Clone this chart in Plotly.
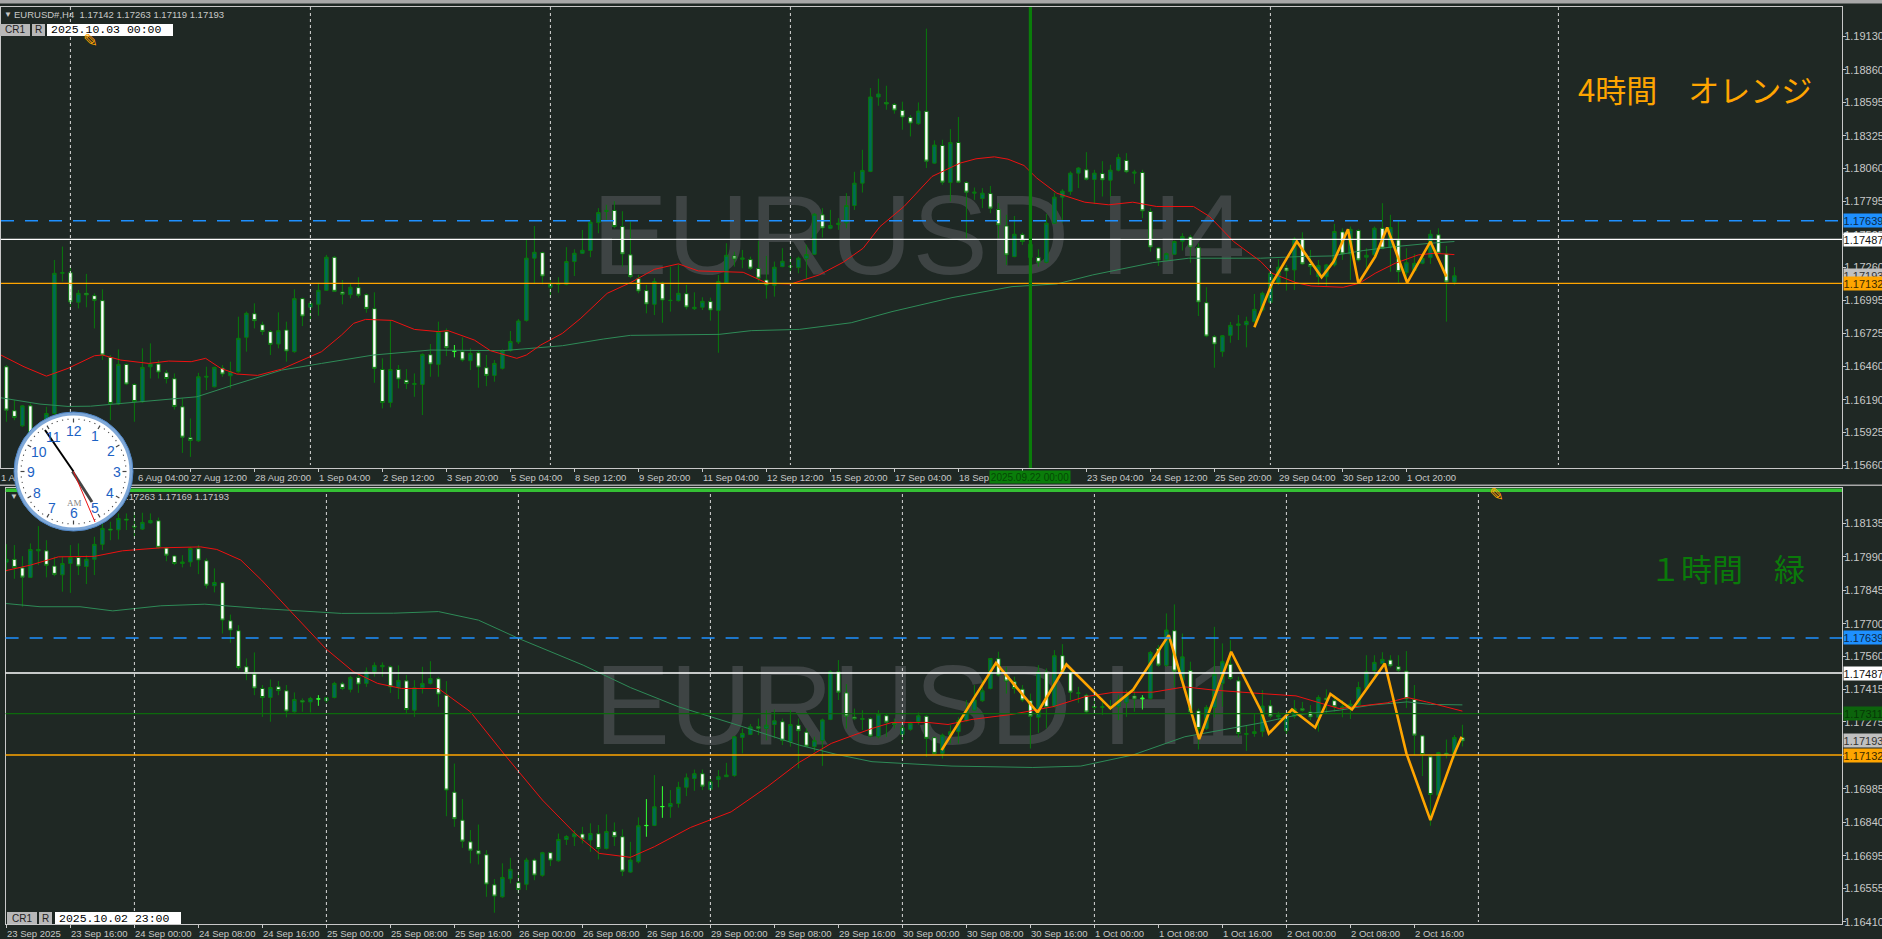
import math
import plotly.graph_objects as go

W, H = 1882, 939
BG = "#1f2824"

top_open = [1.16457,1.16101,1.15979,1.16141,1.15809,1.15944,1.16079,1.17213,1.17218,1.16978,
1.17051,1.17032,1.16992,1.16533,1.16155,1.16476,1.16314,1.16174,1.16457,1.16479,
1.16408,1.16360,1.16133,1.15882,1.15858,1.16373,1.16295,1.16446,1.16384,1.16417,
1.16695,1.16886,1.16797,1.16741,1.16641,1.16754,1.16579,1.17008,1.16938,1.16962,
1.17075,1.17343,1.17062,1.17040,1.17097,1.17040,1.16927,1.16435,1.16168,1.16435,
1.16349,1.16314,1.16314,1.16554,1.16476,1.16741,1.16581,1.16579,1.16506,1.16570,
1.16449,1.16387,1.16444,1.16589,1.16657,1.16832,1.17335,1.17380,1.17100,1.17124,
1.17124,1.17308,1.17375,1.17397,1.17623,1.17713,1.17721,1.17591,1.17362,1.17170,
1.17073,1.16962,1.17135,1.16992,1.16992,1.17048,1.16927,1.16938,1.16984,1.16913,
1.17137,1.17353,1.17326,1.17324,1.17251,1.17159,1.17116,1.17267,1.17264,1.17259,
1.17332,1.17367,1.17686,1.17577,1.17607,1.17621,1.17761,1.17942,1.18037,1.18639,
1.18595,1.18579,1.18531,1.18474,1.18423,1.18523,1.18104,1.18247,1.17947,1.18271,
1.17947,1.17861,1.17818,1.17858,1.17729,1.17596,1.17348,1.17526,1.17340,1.17340,
1.17302,1.17618,1.17829,1.17875,1.18023,1.18050,1.17972,1.18020,1.17966,1.18047,
1.18126,1.18023,1.18028,1.17713,1.17418,1.17321,1.17367,1.17472,1.17507,1.17421,
1.16975,1.16700,1.16579,1.16711,1.16792,1.16797,1.16822,1.16916,1.16978,1.17132,
1.17256,1.17240,1.17491,1.17289,1.17186,1.17186,1.17281,1.17548,1.17370,1.17559,
1.17343,1.17362,1.17577,1.17424,1.17483,1.17218,1.17235,1.17294,1.17340,1.17524,
1.17370,1.17142]
top_high = [1.16471,1.16187,1.16147,1.16160,1.15998,1.16133,1.17321,1.17429,1.17267,1.17078,
1.17208,1.17051,1.17083,1.16552,1.16597,1.16484,1.16322,1.16606,1.16646,1.16511,
1.16430,1.16403,1.16201,1.16039,1.16408,1.16457,1.16457,1.16471,1.16498,1.16862,
1.16903,1.16970,1.16822,1.16754,1.16897,1.16822,1.17083,1.17016,1.16984,1.17137,
1.17362,1.17353,1.17159,1.17127,1.17181,1.17051,1.17059,1.16525,1.16830,1.16471,
1.16438,1.16403,1.16565,1.16641,1.16822,1.16767,1.16633,1.16695,1.16606,1.16592,
1.16552,1.16511,1.16597,1.16746,1.16843,1.17483,1.17596,1.17388,1.17181,1.17181,
1.17424,1.17407,1.17564,1.17645,1.17740,1.17767,1.17796,1.17715,1.17632,1.17200,
1.17119,1.17173,1.17146,1.17267,1.17286,1.17119,1.17059,1.17019,1.17016,1.17200,
1.17456,1.17388,1.17402,1.17348,1.17475,1.17353,1.17308,1.17416,1.17348,1.17348,
1.17443,1.17699,1.17740,1.17726,1.17659,1.17861,1.18034,1.18212,1.18712,1.18787,
1.18730,1.18590,1.18601,1.18493,1.18595,1.19192,1.18288,1.18293,1.18379,1.18477,
1.17958,1.17907,1.17902,1.17920,1.17780,1.17686,1.17677,1.17542,1.17564,1.17407,
1.17693,1.17866,1.17893,1.18037,1.18072,1.18193,1.18050,1.18120,1.18091,1.18180,
1.18185,1.18050,1.18050,1.17740,1.17424,1.17380,1.17478,1.17537,1.17524,1.17456,
1.17100,1.16714,1.16714,1.16819,1.16875,1.16862,1.17046,1.17065,1.17226,1.17326,
1.17281,1.17505,1.17545,1.17402,1.17321,1.17289,1.17613,1.17577,1.17591,1.17569,
1.17416,1.17591,1.17780,1.17686,1.17640,1.17416,1.17370,1.17375,1.17564,1.17577,
1.17434,1.17263]
top_low = [1.16012,1.16025,1.15971,1.15795,1.15728,1.15930,1.16025,1.17146,1.16943,1.16929,
1.16938,1.16767,1.16511,1.16025,1.16147,1.16308,1.16012,1.16165,1.16362,1.16362,
1.16322,1.16111,1.15760,1.15728,1.15850,1.16268,1.16290,1.16376,1.16282,1.16408,
1.16579,1.16767,1.16714,1.16552,1.16606,1.16498,1.16570,1.16786,1.16835,1.16870,
1.17070,1.17062,1.16962,1.17010,1.17016,1.16894,1.16327,1.16120,1.16128,1.16282,
1.16276,1.16214,1.16066,1.16376,1.16376,1.16543,1.16533,1.16498,1.16430,1.16287,
1.16300,1.16336,1.16435,1.16579,1.16641,1.16822,1.17132,1.17124,1.17024,1.17056,
1.17116,1.17191,1.17370,1.17343,1.17537,1.17645,1.17577,1.17267,1.17173,1.17051,
1.16889,1.16875,1.16813,1.16903,1.16984,1.16921,1.16916,1.16916,1.16830,1.16570,
1.17132,1.17267,1.17254,1.17240,1.17146,1.17008,1.17024,1.17262,1.17213,1.17213,
1.17164,1.17362,1.17502,1.17569,1.17564,1.17577,1.17726,1.17866,1.18031,1.18568,
1.18536,1.18504,1.18374,1.18320,1.18414,1.18064,1.18099,1.17929,1.17794,1.17942,
1.17497,1.17807,1.17740,1.17699,1.17497,1.17281,1.17343,1.17443,1.17294,1.17267,
1.17294,1.17613,1.17623,1.17847,1.17902,1.17964,1.17775,1.17834,1.17834,1.18037,
1.18023,1.17937,1.17659,1.17388,1.17272,1.17313,1.17362,1.17397,1.17299,1.16867,
1.16695,1.16449,1.16538,1.16651,1.16673,1.16614,1.16813,1.16903,1.16970,1.17119,
1.17073,1.17078,1.17281,1.17200,1.17119,1.17110,1.17267,1.17321,1.17159,1.17308,
1.17235,1.17348,1.17407,1.17226,1.17137,1.17137,1.17226,1.17286,1.17289,1.17367,
1.16822,1.17119]
top_close = [1.16106,1.16047,1.16141,1.15836,1.15944,1.16079,1.17213,1.17218,1.16981,1.17051,
1.17038,1.16994,1.16552,1.16160,1.16476,1.16317,1.16176,1.16452,1.16479,1.16414,
1.16362,1.16136,1.15887,1.15860,1.16376,1.16379,1.16452,1.16398,1.16417,1.16687,
1.16889,1.16830,1.16743,1.16638,1.16749,1.16584,1.17008,1.16867,1.16970,1.17075,
1.17343,1.17067,1.17043,1.17100,1.17035,1.16929,1.16444,1.16168,1.16435,1.16357,
1.16322,1.16322,1.16557,1.16479,1.16741,1.16611,1.16584,1.16511,1.16565,1.16454,
1.16387,1.16484,1.16587,1.16662,1.16827,1.17335,1.17383,1.17191,1.17124,1.17127,
1.17308,1.17375,1.17399,1.17626,1.17704,1.17721,1.17591,1.17370,1.17186,1.17070,
1.16965,1.17146,1.16997,1.16994,1.17051,1.16940,1.16938,1.16986,1.16916,1.17146,
1.17359,1.17329,1.17337,1.17254,1.17173,1.17119,1.17262,1.17310,1.17270,1.17335,
1.17364,1.17691,1.17580,1.17599,1.17618,1.17761,1.17942,1.18045,1.18639,1.18663,
1.18582,1.18533,1.18477,1.18428,1.18525,1.18120,1.18250,1.17950,1.18271,1.17950,
1.17869,1.17869,1.17861,1.17740,1.17605,1.17362,1.17529,1.17470,1.17448,1.17302,
1.17618,1.17829,1.17877,1.18023,1.18064,1.17974,1.18023,1.17969,1.18047,1.18150,
1.18034,1.18031,1.17718,1.17426,1.17321,1.17372,1.17470,1.17510,1.17426,1.16981,
1.16705,1.16641,1.16708,1.16792,1.16803,1.16824,1.16921,1.17051,1.17213,1.17262,
1.17232,1.17491,1.17289,1.17267,1.17275,1.17281,1.17551,1.17370,1.17569,1.17321,
1.17359,1.17577,1.17416,1.17583,1.17226,1.17299,1.17294,1.17335,1.17529,1.17375,
1.17143,1.17193]

bot_open = [1.17967,1.17979,1.17942,1.17901,1.18016,1.18016,1.17950,1.17912,1.17961,1.17987,
1.17948,1.17979,1.18044,1.18110,1.18107,1.18153,1.18123,1.18110,1.18137,1.18146,
1.18028,1.17994,1.17961,1.17968,1.18025,1.17973,1.17865,1.17878,1.17713,1.17670,
1.17514,1.17482,1.17420,1.17381,1.17427,1.17410,1.17319,1.17367,1.17362,1.17374,
1.17367,1.17381,1.17440,1.17416,1.17468,1.17442,1.17492,1.17514,1.17514,1.17424,
1.17453,1.17326,1.17423,1.17442,1.17462,1.17391,1.16971,1.16850,1.16756,1.16717,
1.16700,1.16570,1.16518,1.16596,1.16579,1.16572,1.16677,1.16611,1.16709,1.16674,
1.16766,1.16778,1.16790,1.16764,1.16791,1.16727,1.16800,1.16778,1.16625,1.16670,
1.16826,1.16827,1.16908,1.16908,1.16922,1.16992,1.17030,1.17051,1.16983,1.17026,
1.17038,1.17043,1.17208,1.17221,1.17254,1.17247,1.17264,1.17276,1.17189,1.17261,
1.17231,1.17168,1.17194,1.17286,1.17492,1.17401,1.17296,1.17286,1.17289,1.17211,
1.17302,1.17269,1.17221,1.17243,1.17277,1.17300,1.17207,1.17139,1.17218,1.17233,
1.17280,1.17326,1.17367,1.17420,1.17549,1.17475,1.17449,1.17417,1.17367,1.17295,
1.17491,1.17341,1.17562,1.17489,1.17398,1.17391,1.17338,1.17338,1.17333,1.17341,
1.17358,1.17387,1.17375,1.17377,1.17593,1.17520,1.17670,1.17456,1.17497,1.17323,
1.17247,1.17338,1.17442,1.17525,1.17453,1.17221,1.17225,1.17233,1.17345,1.17297,
1.17237,1.17300,1.17332,1.17318,1.17295,1.17378,1.17367,1.17335,1.17338,1.17348,
1.17420,1.17497,1.17528,1.17543,1.17514,1.17495,1.17372,1.17215,1.17124,1.16958,
1.17140,1.17136,1.17207]
bot_high = [1.18045,1.18041,1.17993,1.18048,1.18123,1.18062,1.17990,1.17990,1.18041,1.18048,
1.17997,1.18077,1.18134,1.18142,1.18178,1.18178,1.18185,1.18181,1.18178,1.18160,
1.18033,1.17997,1.17997,1.18033,1.18041,1.17983,1.17940,1.17882,1.17740,1.17694,
1.17550,1.17576,1.17435,1.17459,1.17452,1.17435,1.17403,1.17377,1.17384,1.17391,
1.17384,1.17449,1.17449,1.17475,1.17478,1.17511,1.17533,1.17533,1.17520,1.17520,
1.17478,1.17456,1.17514,1.17538,1.17471,1.17452,1.17095,1.16941,1.16807,1.16831,
1.16720,1.16595,1.16663,1.16687,1.16626,1.16687,1.16684,1.16713,1.16713,1.16792,
1.16785,1.16807,1.16821,1.16836,1.16829,1.16875,1.16840,1.16810,1.16756,1.16862,
1.16941,1.17045,1.16997,1.16980,1.17016,1.17052,1.17069,1.17069,1.17041,1.17067,
1.17098,1.17214,1.17247,1.17266,1.17290,1.17326,1.17329,1.17290,1.17326,1.17290,
1.17247,1.17211,1.17290,1.17499,1.17543,1.17439,1.17333,1.17326,1.17295,1.17326,
1.17312,1.17290,1.17276,1.17276,1.17316,1.17305,1.17211,1.17225,1.17261,1.17295,
1.17370,1.17435,1.17456,1.17550,1.17579,1.17514,1.17471,1.17435,1.17398,1.17521,
1.17507,1.17586,1.17612,1.17499,1.17427,1.17398,1.17398,1.17377,1.17370,1.17391,
1.17413,1.17413,1.17391,1.17583,1.17608,1.17745,1.17784,1.17658,1.17536,1.17333,
1.17348,1.17687,1.17615,1.17629,1.17471,1.17261,1.17312,1.17413,1.17370,1.17319,
1.17312,1.17370,1.17362,1.17348,1.17391,1.17416,1.17391,1.17370,1.17370,1.17449,
1.17564,1.17564,1.17577,1.17564,1.17564,1.17582,1.17435,1.17218,1.17132,1.17146,
1.17199,1.17218,1.17263]
bot_low = [1.17925,1.17895,1.17774,1.17899,1.17954,1.17901,1.17906,1.17839,1.17834,1.17911,
1.17872,1.17911,1.18019,1.18062,1.18065,1.18106,1.18077,1.18106,1.18134,1.18026,
1.17971,1.17954,1.17944,1.17947,1.17915,1.17853,1.17836,1.17658,1.17618,1.17502,
1.17456,1.17391,1.17297,1.17276,1.17391,1.17295,1.17316,1.17319,1.17316,1.17345,
1.17358,1.17377,1.17413,1.17403,1.17401,1.17427,1.17471,1.17471,1.17401,1.17374,
1.17312,1.17297,1.17398,1.17437,1.17341,1.16867,1.16821,1.16730,1.16663,1.16658,
1.16518,1.16449,1.16514,1.16576,1.16533,1.16547,1.16590,1.16605,1.16651,1.16670,
1.16742,1.16738,1.16749,1.16713,1.16680,1.16723,1.16738,1.16608,1.16622,1.16663,
1.16778,1.16824,1.16860,1.16860,1.16904,1.16954,1.16977,1.16980,1.16980,1.16992,
1.17038,1.17038,1.17139,1.17218,1.17218,1.17196,1.17204,1.17175,1.17168,1.17074,
1.17168,1.17146,1.17085,1.17283,1.17370,1.17247,1.17283,1.17240,1.17208,1.17204,
1.17211,1.17247,1.17182,1.17237,1.17264,1.17124,1.17132,1.17117,1.17182,1.17182,
1.17276,1.17323,1.17362,1.17416,1.17471,1.17398,1.17398,1.17362,1.17160,1.17228,
1.17247,1.17338,1.17485,1.17370,1.17358,1.17312,1.17312,1.17305,1.17326,1.17283,
1.17297,1.17319,1.17329,1.17372,1.17514,1.17514,1.17427,1.17427,1.17312,1.17156,
1.17240,1.17295,1.17341,1.17456,1.17208,1.17150,1.17211,1.17211,1.17290,1.17283,
1.17222,1.17290,1.17319,1.17283,1.17233,1.17312,1.17319,1.17295,1.17288,1.17344,
1.17413,1.17471,1.17525,1.17511,1.17492,1.17335,1.17132,1.17041,1.16826,1.16954,
1.17117,1.17117,1.17169]
bot_close = [1.17979,1.17944,1.17902,1.18022,1.18022,1.17953,1.17914,1.17961,1.17987,1.17950,
1.17979,1.18044,1.18113,1.18106,1.18156,1.18149,1.18119,1.18139,1.18147,1.18031,
1.17997,1.17961,1.17968,1.18026,1.17976,1.17867,1.17879,1.17716,1.17673,1.17511,
1.17485,1.17422,1.17381,1.17424,1.17411,1.17322,1.17372,1.17361,1.17377,1.17375,
1.17380,1.17442,1.17420,1.17468,1.17439,1.17492,1.17520,1.17520,1.17427,1.17455,
1.17329,1.17423,1.17442,1.17463,1.17396,1.16980,1.16856,1.16759,1.16720,1.16703,
1.16573,1.16521,1.16602,1.16637,1.16550,1.16677,1.16612,1.16709,1.16677,1.16766,
1.16779,1.16791,1.16768,1.16792,1.16727,1.16801,1.16778,1.16629,1.16677,1.16826,
1.16827,1.16908,1.16909,1.16922,1.16992,1.17033,1.17051,1.16997,1.17016,1.17038,
1.17045,1.17211,1.17225,1.17254,1.17248,1.17261,1.17280,1.17196,1.17264,1.17237,
1.17170,1.17194,1.17284,1.17492,1.17404,1.17300,1.17289,1.17290,1.17214,1.17309,
1.17274,1.17264,1.17250,1.17269,1.17302,1.17204,1.17139,1.17218,1.17233,1.17280,
1.17326,1.17370,1.17410,1.17550,1.17478,1.17452,1.17420,1.17370,1.17300,1.17492,
1.17338,1.17562,1.17492,1.17404,1.17401,1.17318,1.17342,1.17341,1.17341,1.17370,
1.17391,1.17375,1.17378,1.17576,1.17521,1.17673,1.17495,1.17557,1.17319,1.17247,
1.17338,1.17482,1.17536,1.17463,1.17225,1.17225,1.17233,1.17344,1.17300,1.17305,
1.17295,1.17332,1.17326,1.17297,1.17381,1.17370,1.17341,1.17341,1.17352,1.17424,
1.17492,1.17533,1.17546,1.17518,1.17499,1.17375,1.17218,1.17134,1.16961,1.17142,
1.17134,1.17208,1.17193]

top_lime = [56]
bot_lime = [39, 80, 82, 142]

top_red_x = [-0.7,2.2,5,7.7,11,12,14.3,17.8,20.3,23.1,24.9,26.8,28.8,31.4,34.4,37.9,39.4,41.9,43.4,44.9,48.2,51,54,55.2,58.5,60.5,63.8,65,66.8,69.5,71.8,75.1,78,81,84,86.5,92.1,95.1,98.1,101.6,104.6,107.1,109.2,112.2,115.7,119.2,121.2,123.5,125.2,127.2,128.8,131.3,134.8,137.8,140.8,143.8,148.4,150.4,153.4,156.8,158.2,161.2,163.1,167.1,169.1,171.1,173.6,176.5,178.5,181]
top_red_y = [1.16552,1.16457,1.16381,1.16444,1.16546,1.16552,1.16511,1.16484,1.16503,1.16498,1.16525,1.16444,1.16398,1.16387,1.16438,1.16533,1.16579,1.16714,1.16808,1.16840,1.16832,1.16759,1.16741,1.16749,1.16673,1.16587,1.16525,1.16552,1.16633,1.16727,1.16849,1.17051,1.17137,1.17245,1.17289,1.17232,1.17221,1.17132,1.17127,1.17200,1.17302,1.17416,1.17591,1.17753,1.17996,1.18104,1.18139,1.18155,1.18136,1.18085,1.17983,1.17861,1.17788,1.17767,1.17788,1.17753,1.17753,1.17672,1.17470,1.17308,1.17213,1.17137,1.17110,1.17100,1.17132,1.17213,1.17294,1.17362,1.17375,1.17364]
top_green_x = [-0.7,4.2,7.7,10.5,14.3,19.3,23.8,28.3,34.4,39.4,45.9,53,62,66.5,69.5,74.6,78,89.1,93.1,99.1,105.6,110.7,118.2,125.7,131.3,135.8,143.3,147.8,156.8,161.7,165.6,169.6,173.6,178,181]
top_green_y = [1.16206,1.16155,1.16136,1.16138,1.16160,1.16187,1.16214,1.16308,1.16430,1.16484,1.16552,1.16592,1.16587,1.16611,1.16627,1.16681,1.16711,1.16719,1.16749,1.16759,1.16813,1.16903,1.17016,1.17105,1.17127,1.17200,1.17299,1.17335,1.17335,1.17348,1.17353,1.17397,1.17429,1.17456,1.17470]
top_orange_x = [156,156.7,158.2,161.3,164.4,165.9,167.7,169,171.1,172.6,175.1,178,180]
top_orange_y = [1.16776,1.16889,1.17132,1.17470,1.17181,1.17308,1.17569,1.17132,1.17348,1.17583,1.17137,1.17470,1.17186]

bot_red_x = [-0.1,3,6.5,11,14.5,19.3,24.3,26.3,29.3,31.9,35.4,39.9,43.4,46.4,49.4,54,58,62.5,67,71.1,74.1,78,81,85.5,90.6,95.1,99.1,103.1,108.2,110.7,115.2,117.7,120.7,125.7,130.8,134.8,138.3,143.3,147.3,150.9,156.8,161.2,166.6,169.6,172.6,175.1,177.5,182]
bot_red_y = [1.17930,1.17954,1.17990,1.17992,1.18016,1.18029,1.18033,1.18022,1.17976,1.17889,1.17759,1.17593,1.17492,1.17442,1.17420,1.17420,1.17319,1.17124,1.16937,1.16792,1.16706,1.16689,1.16735,1.16818,1.16886,1.16994,1.17100,1.17182,1.17247,1.17273,1.17273,1.17264,1.17286,1.17308,1.17341,1.17384,1.17403,1.17404,1.17427,1.17413,1.17398,1.17388,1.17333,1.17344,1.17358,1.17381,1.17362,1.17322]
bot_green_x = [-0.1,4.2,9.2,13.3,19.3,24.8,31.9,39.4,41.9,48.4,54,59,64,72.1,78,84,92.1,99.1,103.6,108.2,118.2,128.3,134.3,140.8,147.3,156.8,161.7,166.6,170.6,175.1,178,182]
bot_green_y = [1.17788,1.17774,1.17774,1.17756,1.17778,1.17785,1.17766,1.17751,1.17745,1.17746,1.17753,1.17716,1.17637,1.17521,1.17424,1.17341,1.17254,1.17175,1.17136,1.17103,1.17084,1.17078,1.17084,1.17132,1.17211,1.17271,1.17308,1.17326,1.17348,1.17362,1.17351,1.17349]
bot_orange_x = [116.9,123.7,128.9,132.5,138,140.8,145.3,149.1,153.1,156.8,157.8,160.7,163.6,165.5,168.2,172.3,175,178,181,181.9]
bot_orange_y = [1.17153,1.17531,1.17316,1.17524,1.17334,1.17413,1.17651,1.17201,1.17579,1.17326,1.17225,1.17329,1.17251,1.17396,1.17329,1.17528,1.17139,1.16850,1.17139,1.17211]

top_yticks = [1.19130,1.18860,1.18595,1.18325,1.18060,1.17795,1.17525,1.17260,1.16995,1.16725,1.16460,1.16190,1.15925,1.15660]
bot_yticks = [1.18135,1.17990,1.17845,1.17700,1.17560,1.17415,1.17275,1.17130,1.16985,1.16840,1.16695,1.16555,1.16410]
top_xtick_idx = [-1,7,15,23,31,39,47,55,63,71,79,87,95,103,111,119,127,135,143,151,159,167,175]
top_xtick_lbl = ["","","","27 Aug 12:00","28 Aug 20:00","1 Sep 04:00","2 Sep 12:00","3 Sep 20:00","5 Sep 04:00","8 Sep 12:00","9 Sep 20:00","11 Sep 04:00","12 Sep 12:00","15 Sep 20:00","17 Sep 04:00","18 Sep","","23 Sep 04:00","24 Sep 12:00","25 Sep 20:00","29 Sep 04:00","30 Sep 12:00","1 Oct 20:00"]
bot_xtick_idx = list(range(0, 177, 8))
bot_xtick_lbl = ["23 Sep 2025","23 Sep 16:00","24 Sep 00:00","24 Sep 08:00","24 Sep 16:00","25 Sep 00:00","25 Sep 08:00","25 Sep 16:00","26 Sep 00:00","26 Sep 08:00","26 Sep 16:00","29 Sep 00:00","29 Sep 08:00","29 Sep 16:00","30 Sep 00:00","30 Sep 08:00","30 Sep 16:00","1 Oct 00:00","1 Oct 08:00","1 Oct 16:00","2 Oct 00:00","2 Oct 08:00","2 Oct 16:00"]
top_grid = [8, 38, 68, 98, 128, 158, 194]
bot_grid = [16, 40, 64, 88, 112, 136, 160, 184]
LVL_BLUE, LVL_WHITE, LVL_GREEN, LVL_LAST, LVL_ORANGE = 1.17639, 1.17487, 1.17311, 1.17193, 1.17132

TICKFONT = "Liberation Sans Narrow, Liberation Sans, sans-serif"
CJK = "Noto Sans CJK JP"
WICK = "#087a0c"
TEAL = "#00695c"
LIME = "#33ff33"

def px(x): return x / W
def py(y): return 1 - y / H

fig = go.Figure()

def wm(text, xa, ya, yfrac):
    fig.add_trace(go.Scatter(x=[0.4985], y=[yfrac], xaxis=xa, yaxis=ya, mode="text", text=[text],
                             textposition="middle center", hoverinfo="skip", showlegend=False,
                             textfont=dict(family="Liberation Sans", size=113, color="#3e4444")))
wm("EURUSD H4", "x", "y", 0.483)
wm("EURUSD H1", "x3", "y3", 0.477)

def candles(o, h, l, c, lime, xa, ya):
    normal = [i for i in range(len(o)) if i not in lime]
    def tr(ix, col, inc, dec):
        fig.add_trace(go.Candlestick(
            x=ix, open=[o[i] for i in ix], high=[h[i] for i in ix], low=[l[i] for i in ix], close=[c[i] for i in ix],
            xaxis=xa, yaxis=ya, showlegend=False, whiskerwidth=0, hoverinfo="skip",
            increasing=dict(fillcolor=inc, line=dict(color=col, width=1)),
            decreasing=dict(fillcolor=dec, line=dict(color=col, width=1))))
    tr(normal, WICK, TEAL, "#ffffff")
    tr(lime, LIME, LIME, LIME)

def line(xs, ys, col, w, xa, ya):
    fig.add_trace(go.Scatter(x=xs, y=ys, mode="lines", xaxis=xa, yaxis=ya, hoverinfo="skip", showlegend=False,
                             line=dict(color=col, width=w)))

candles(top_open, top_high, top_low, top_close, top_lime, "x2", "y2")
line(top_green_x, top_green_y, "#2e8b57", 1, "x2", "y2")
line(top_red_x, top_red_y, "#ee1111", 1, "x2", "y2")
line(top_orange_x, top_orange_y, "#ffa500", 2.6, "x2", "y2")

candles(bot_open, bot_high, bot_low, bot_close, bot_lime, "x4", "y4")
line(bot_green_x, bot_green_y, "#2e8b57", 1, "x4", "y4")
line(bot_red_x, bot_red_y, "#ee1111", 1, "x4", "y4")
line(bot_orange_x, bot_orange_y, "#ffa500", 2.6, "x4", "y4")

TX0, TX1, TY0, TY1 = 1, 1842, 7, 468
BX0, BX1, BY0, BY1 = 5.6, 1842, 488, 924.3
hidden = dict(visible=False, range=[0, 1], fixedrange=True)

def price_axis(vals, rng, dom, anchor, over):
    return dict(domain=dom, range=rng, anchor=anchor, overlaying=over, side="right", tickmode="array", tickvals=vals,
                ticktext=["%.5f" % v for v in vals], showgrid=False, zeroline=False, ticks="outside", ticklen=3,
                ticklabelstandoff=-4,
                tickcolor="#c8c8c8", tickfont=dict(family=TICKFONT, size=11, color="#c8c8c8"), showline=True,
                linecolor="#c8c8c8", linewidth=1, mirror=True)

def time_axis(idx, rng, dom, anchor, over):
    return dict(domain=dom, range=rng, anchor=anchor, overlaying=over, tickmode="array", tickvals=idx, ticktext=[""] * len(idx),
                showgrid=False, zeroline=False, ticks="outside", ticklen=3, tickcolor="#c8c8c8", showline=True,
                linecolor="#c8c8c8", linewidth=1, mirror=True, rangeslider=dict(visible=False))

tdx = [px(TX0), px(TX1)]; tdy = [py(TY1), py(TY0)]
bdx = [px(BX0), px(BX1)]; bdy = [py(BY1), py(BY0)]
layout = dict(
    width=W, height=H, margin=dict(l=0, r=0, t=0, b=0, autoexpand=False), paper_bgcolor=BG, plot_bgcolor=BG, showlegend=False, boxgap=0.38,
    xaxis=dict(hidden, domain=tdx, anchor="y"), yaxis=dict(hidden, domain=tdy, anchor="x"),
    xaxis3=dict(hidden, domain=bdx, anchor="y3"), yaxis3=dict(hidden, domain=bdy, anchor="x3"),
    xaxis2=time_axis(top_xtick_idx, [-0.675, 229.45], tdx, "y2", "x"),
    yaxis2=price_axis(top_yticks, [1.15638, 1.19367], tdy, "x2", "y"),
    xaxis4=time_axis(bot_xtick_idx, [-0.1, 229.45], bdx, "y4", "x3"),
    yaxis4=price_axis(bot_yticks, [1.16399, 1.18288], bdy, "x4", "y3"),
)
fig.update_layout(**layout)

shapes = []
anns = []

def hline(v, col, w, dash, xa, ya):
    shapes.append(dict(type="line", xref=xa + " domain", x0=0, x1=1, yref=ya, y0=v, y1=v, line=dict(color=col, width=w, dash=dash)))
def vline(i, col, w, dash, xa, y0, y1):
    shapes.append(dict(type="line", xref=xa, x0=i, x1=i, yref="paper", y0=py(y0), y1=py(y1), line=dict(color=col, width=w, dash=dash)))
def box(x0, y0, x1, y1, col, lw=0, lc=None):
    shapes.append(dict(type="rect", xref="paper", yref="paper", x0=px(x0), x1=px(x1), y0=py(y0), y1=py(y1), fillcolor=col,
                       line=dict(width=lw, color=lc or col)))
def txt(x, y, s, size=9.5, col="#c8c8c8", fam=TICKFONT, anchor="left", bg=None, **kw):
    d = dict(xref="paper", yref="paper", x=px(x), y=py(y), text=s, showarrow=False, xanchor=anchor, yanchor="middle",
             font=dict(family=fam, size=size, color=col), borderpad=0)
    if bg: d["bgcolor"] = bg
    d.update(kw)
    anns.append(d)

for g in top_grid: vline(g, "#d8d8d8", 1, "3px,3px", "x2", TY0, 465)
for g in bot_grid: vline(g, "#d8d8d8", 1, "3px,3px", "x4", 494, 922)
hline(LVL_BLUE, "#1e90ff", 1.5, "13px,11px", "x2", "y2")
hline(LVL_WHITE, "#ffffff", 1.3, "solid", "x2", "y2")
hline(LVL_ORANGE, "#ffa500", 1.3, "solid", "x2", "y2")
hline(LVL_BLUE, "#1e90ff", 1.5, "13px,11px", "x4", "y4")
hline(LVL_WHITE, "#ffffff", 1.3, "solid", "x4", "y4")
hline(LVL_GREEN, "#0c6a0c", 1.2, "solid", "x4", "y4")
hline(LVL_ORANGE, "#ffa500", 1.3, "solid", "x4", "y4")
vline(128, "#0a7d0a", 3.2, "solid", "x2", TY0, TY1)

box(0, 0, W, 3.5, "#a8a8a8")
box(0, 484.5, W, 486, "#a8a8a8")
box(BX0, 488.5, BX1, 492, "#34c034")

for i, s in zip(top_xtick_idx, top_xtick_lbl):
    if s:
        anns.append(dict(xref="x2", x=i, yref="paper", y=py(477), text=s, showarrow=False, xanchor="left", yanchor="middle", xshift=-1,
                         font=dict(family=TICKFONT, size=9.5, color="#c8c8c8")))
for i, s in zip(bot_xtick_idx, bot_xtick_lbl):
    anns.append(dict(xref="x4", x=i, yref="paper", y=py(933), text=s, showarrow=False, xanchor="left", yanchor="middle", xshift=-1,
                     font=dict(family=TICKFONT, size=9.5, color="#c8c8c8")))
txt(0, 477, "1 A")
txt(137, 477, "6 Aug 04:00")

def tag(v, ya, bg, col):
    anns.append(dict(xref="paper", x=px(1843), yref=ya, y=v, text="%.5f" % v, showarrow=False, xanchor="left", yanchor="middle",
                     bgcolor=bg, width=39, height=13, align="center", borderpad=0,
                     font=dict(family=TICKFONT, size=11, color=col)))
tag(LVL_BLUE, "y2", "#1e90ff", "#0c2a4a"); tag(LVL_WHITE, "y2", "#ffffff", "#111111")
tag(LVL_LAST, "y2", "#c0c0c0", "#333333"); tag(LVL_ORANGE, "y2", "#ffa500", "#3a2a00")
tag(LVL_BLUE, "y4", "#1e90ff", "#0c2a4a"); tag(LVL_WHITE, "y4", "#ffffff", "#111111")
tag(LVL_GREEN, "y4", "#0c640c", "#063806"); tag(LVL_LAST, "y4", "#c0c0c0", "#333333"); tag(LVL_ORANGE, "y4", "#ffa500", "#3a2a00")

anns.append(dict(xref="x2", x=128, yref="paper", y=py(477), text="2025.09.22 00:00", showarrow=False, xanchor="center", yanchor="middle",
                 bgcolor="#0a7d0a", width=80, height=12, borderpad=0, font=dict(family=TICKFONT, size=10, color="#054a05")))

txt(13, 15, "EURUSD#,H4  1.17142 1.17263 1.17119 1.17193")
txt(125, 497, ".17263 1.17169 1.17193")
txt(3, 15, "▼", size=8); txt(9, 496, "▼", size=8)
MONO = "Liberation Mono, DejaVu Sans Mono"
for (bx, by, rx, dx, dw, stamp) in [(0, 24, 32, 47, 126, "2025.10.03 00:00"), (7, 912, 39, 55, 126, "2025.10.02 23:00")]:
    box(bx, by, bx + 30, by + 12, "#b8b8b8")
    box(rx, by, rx + 13, by + 12, "#b8b8b8")
    box(dx, by, dx + dw, by + 12, "#ffffff")
    txt(bx + 15, by + 6, "CR1", size=10, col="#222222", anchor="center")
    txt(rx + 6.5, by + 6, "R", size=10, col="#222222", anchor="center")
    txt(dx + 3, by + 6, stamp, size=11.5, col="#000000", fam=MONO)

txt(90, 41, "✎", size=18, col="#ffa500", fam="DejaVu Sans", anchor="center")
txt(1496, 494, "✎", size=18, col="#ffa500", fam="DejaVu Sans", anchor="center")
txt(1577, 89, "4時間　オレンジ", size=31, col="#ffa500", fam=CJK)
txt(1649, 567, "１時間　緑", size=31, col="#0a7a0a", fam=CJK)

# analogue clock ornament
CX, CY, R = 73.5, 471.5, 58
def circ(r, fill, lw=0, lc=None):
    shapes.append(dict(type="circle", xref="paper", yref="paper", x0=px(CX - r), x1=px(CX + r), y0=py(CY - r), y1=py(CY + r),
                       fillcolor=fill, line=dict(width=lw, color=lc or fill)))
def seg(x0, y0, x1, y1, col, w):
    shapes.append(dict(type="line", xref="paper", yref="paper", x0=px(x0), x1=px(x1), y0=py(y0), y1=py(y1), line=dict(color=col, width=w)))
circ(R + 1.5, "#7fa8d8", 1, "#4f86c6")
circ(R - 2, "#ffffff")
for k in range(60):
    a = math.radians(k * 6)
    r0 = R - (9 if k % 5 == 0 else 6)
    seg(CX + r0 * math.sin(a), CY - r0 * math.cos(a), CX + (R - 5) * math.sin(a), CY - (R - 5) * math.cos(a), "#444444", 1.2)
seg(CX - 1, CY + 0, 92, 502, "#444444", 3)
seg(CX, CY, 45, 430, "#000000", 2)
seg(CX, CY, 95, 522, "#ee1111", 1)
for s, x, y in [("12", 74.3, 431), ("11", 53.4, 437), ("1", 94.8, 436), ("10", 38.6, 452), ("2", 110.5, 451), ("9", 31.3, 472),
                ("3", 116.5, 472), ("8", 37, 493), ("4", 109.7, 493), ("7", 52.2, 508), ("5", 94.8, 508), ("6", 73.5, 513)]:
    txt(x, y, s, size=14, col="#1c62c4", fam="Liberation Sans", anchor="center")
txt(74.7, 503, "AM", size=9, col="#808080", fam="Liberation Serif", anchor="center")

fig.update_layout(shapes=shapes, annotations=anns)
fig.write_html("out.html", post_script="document.body.style.margin='0';document.body.style.overflow='hidden';", config=dict(displayModeBar=False))
